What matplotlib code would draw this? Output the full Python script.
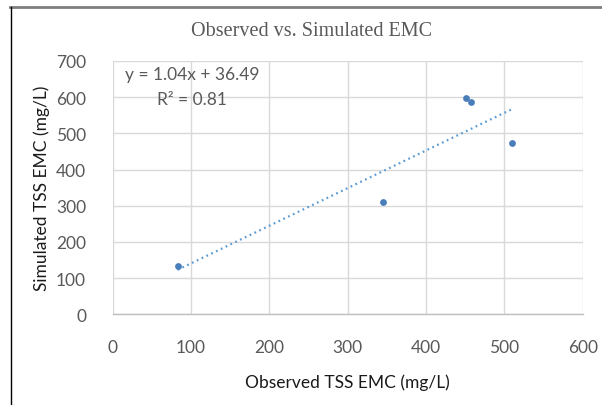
import matplotlib.pyplot as plt
from matplotlib.lines import Line2D
import numpy as np

# Observed vs simulated TSS event mean concentrations
observed = [83, 345, 451, 457.5, 510]
simulated = [133, 311, 597, 586, 473]

# Excel linear trendline coefficients (from the label)
slope = 1.04
intercept = 36.49
r_squared = 0.81

x_ticks = [0, 100, 200, 300, 400, 500, 600]
y_ticks = [0, 100, 200, 300, 400, 500, 600, 700]

fig = plt.figure(figsize=(6.02, 4.06), dpi=100)
ax = fig.add_axes([112.5 / 602, 1 - 315.3 / 406, 470.2 / 602, 253.4 / 406])

ax.grid(True, color='#d9d9d9', linewidth=1)
ax.set_axisbelow(True)
for side in ['top', 'right', 'left']:
    ax.spines[side].set_visible(False)
ax.spines['bottom'].set_color('#bfbfbf')
ax.spines['bottom'].set_linewidth(1)

ax.scatter(observed, simulated, s=24, color='#4a7ebb', zorder=3, linewidths=0)

tx = np.array([min(observed), max(observed)])
ax.plot(tx, slope * tx + intercept, color='#5b9bd5', linewidth=1.6,
        linestyle=(0, (0.8, 1.6)), zorder=2)

ax.set_xlim(0, 600)
ax.set_ylim(0, 700)
ax.set_xticks(x_ticks)
ax.set_yticks(y_ticks)
ax.tick_params(length=0, labelsize=12.5, labelcolor='#595959')
ax.tick_params(axis='x', pad=18)
ax.tick_params(axis='y', pad=19)
for lbl in ax.get_xticklabels() + ax.get_yticklabels():
    lbl.set_family('Lato')

ax.set_xlabel('Observed TSS EMC (mg/L)', family='Lato', fontsize=12.5,
              color='#1a1a1a', labelpad=13)
ax.set_ylabel('Simulated TSS EMC (mg/L)', family='Lato', fontsize=12.5,
              color='#1a1a1a', labelpad=4)

ax.text(0.17, 0.899, f'y = {slope:.2f}x + {intercept:.2f}\nR² = {r_squared:.2f}',
        transform=ax.transAxes, ha='center', va='center', family='Lato',
        fontsize=12.5, color='#595959', linespacing=1.65, multialignment='center')

fig.text(312 / 602, 1 - 31 / 406, 'Observed vs. Simulated EMC', ha='center', va='center',
         family='Liberation Serif', fontsize=14.5, color='#595959')

# chart frame edges
fig.add_artist(Line2D([10 / 602, 1], [1 - 8 / 406] * 2, color='#7f7f7f', linewidth=2))
fig.add_artist(Line2D([11 / 602] * 2, [0, 1 - 8 / 406], color='black', linewidth=1))

fig.savefig('out.png', dpi=100)
